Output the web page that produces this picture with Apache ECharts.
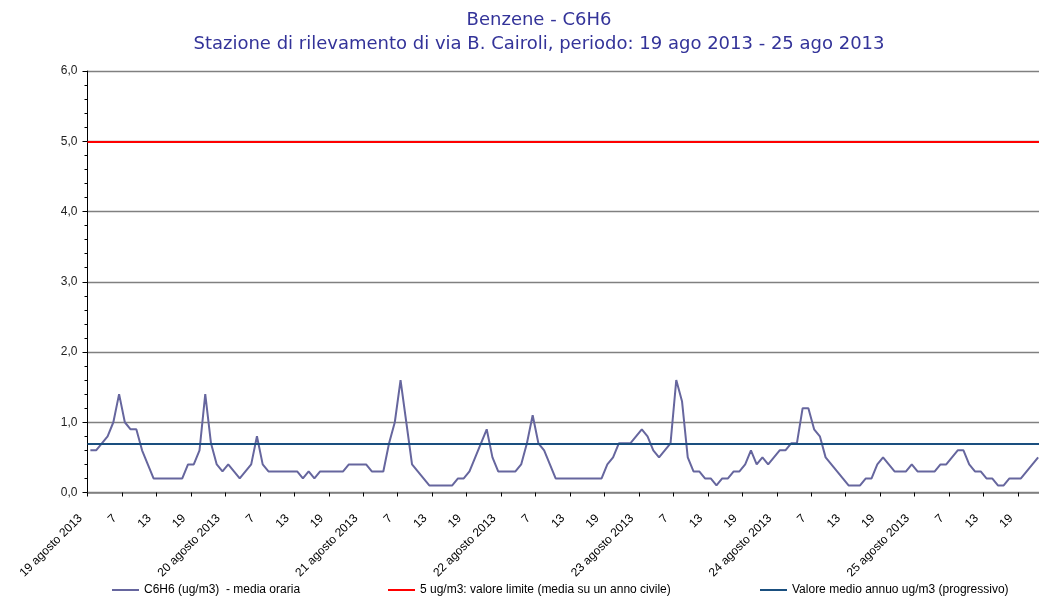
<!DOCTYPE html>
<html>
<head>
<meta charset="utf-8">
<title>Benzene - C6H6</title>
<script src="https://cdn.jsdelivr.net/npm/echarts@6/dist/echarts.min.js"></script>
<style>
    html, body { margin:0; padding:0; background:#fff; }
    #chart { width:1039px; height:600px; }
</style>
</head>
<body>
<div id="chart"></div>
<script>
// giorni del periodo, una etichetta per giorno (ore 1..24)
var days = ["19 agosto 2013","20 agosto 2013","21 agosto 2013","22 agosto 2013","23 agosto 2013","24 agosto 2013","25 agosto 2013"];
var hoursPerDay = 24;

// C6H6 (ug/m3) - media oraria
var c6h6 = [
    0.6,0.6,0.7,0.8,1.0,1.4,1.0,0.9,0.9,0.6,0.4,0.2,0.2,0.2,0.2,0.2,0.2,0.4,0.4,0.6,1.4,0.7,0.4,0.3,
    0.4,0.3,0.2,0.3,0.4,0.8,0.4,0.3,0.3,0.3,0.3,0.3,0.3,0.2,0.3,0.2,0.3,0.3,0.3,0.3,0.3,0.4,0.4,0.4,
    0.4,0.3,0.3,0.3,0.7,1.0,1.6,1.0,0.4,0.3,0.2,0.1,0.1,0.1,0.1,0.1,0.2,0.2,0.3,0.5,0.7,0.9,0.5,0.3,
    0.3,0.3,0.3,0.4,0.7,1.1,0.7,0.6,0.4,0.2,0.2,0.2,0.2,0.2,0.2,0.2,0.2,0.2,0.4,0.5,0.7,0.7,0.7,0.8,
    0.9,0.8,0.6,0.5,0.6,0.7,1.6,1.3,0.5,0.3,0.3,0.2,0.2,0.1,0.2,0.2,0.3,0.3,0.4,0.6,0.4,0.5,0.4,0.5,
    0.6,0.6,0.7,0.7,1.2,1.2,0.9,0.8,0.5,0.4,0.3,0.2,0.1,0.1,0.1,0.2,0.2,0.4,0.5,0.4,0.3,0.3,0.3,0.4,
    0.3,0.3,0.3,0.3,0.4,0.4,0.5,0.6,0.6,0.4,0.3,0.3,0.2,0.2,0.1,0.1,0.2,0.2,0.2,0.3,0.4,0.5
];

var limitValue = 5;      // valore limite
var annualMean = 0.7;    // valore medio annuo (progressivo)

var seriesNames = [
    "C6H6 (ug/m3)  - media oraria",
    "5 ug/m3: valore limite (media su un anno civile)",
    "Valore medio annuo ug/m3 (progressivo)"
];

var categories = [];
for (var d = 0; d < days.length; d++) {
    for (var h = 1; h <= hoursPerDay; h++) {
        categories.push(h == 1 ? days[d] : String(h));
    }
}

var labelFont = "Liberation Sans, Arial, sans-serif";

function refLine(value, color){
    return {
        silent: true,
        symbol: ["none","none"],
        label: { show:false },
        lineStyle: { color: color, width: 2, type: "solid" },
        data: [{ yAxis: value }]
    };
}

function legendAt(name, left){
    return {
        data: [name],
        left: left,
        top: 584,
        padding: 0,
        icon: "rect",
        itemWidth: 27,
        itemHeight: 2,
        textStyle: { fontFamily: labelFont, fontSize: 12, color: "#000" }
    };
}

var chart = echarts.init(document.getElementById("chart"));
var option = {
    animation: false,
    title: {
        text: "Benzene - C6H6\nStazione di rilevamento di via B. Cairoli, periodo: 19 ago 2013 - 25 ago 2013",
        left: 534,
        top: 3,
        textAlign: "center",
        textStyle: {
            color: "#333399",
            fontFamily: "DejaVu Sans, sans-serif",
            fontSize: 18,
            fontWeight: "normal",
            lineHeight: 24
        }
    },
    legend: [
        legendAt(seriesNames[0], 112),
        legendAt(seriesNames[1], 388),
        legendAt(seriesNames[2], 760)
    ],
    grid: {
        left: 87.5, width: 965, top: 71, bottom: 107.5,
        containLabel: false,
        outerBoundsMode: "none"
    },
    xAxis: {
        type: "category",
        data: categories,
        boundaryGap: true,
        axisLine: { show:true, lineStyle:{ color:"#808080", width:1.5 } },
        axisTick: { show:true, interval:5, length:4, lineStyle:{ color:"#000" } },
        axisLabel: {
            interval: 5,
            rotate: 45,
            margin: 14,
            padding: [0, 14, 0, 0],
            color: "#000",
            fontFamily: labelFont,
            fontSize: 12
        },
        splitLine: { show:false }
    },
    yAxis: {
        type: "value",
        min: 0,
        max: 6,
        interval: 1,
        axisLine: { show:true, lineStyle:{ color:"#000", width:1 } },
        axisTick: { show:true, length:5, lineStyle:{ color:"#000" } },
        minorTick: { show:true, splitNumber:5, length:3, lineStyle:{ color:"#000" } },
        axisLabel: {
            margin: 10,
            color: "#222",
            fontFamily: labelFont,
            fontSize: 12,
            formatter: function(v){ return v.toFixed(1).replace(".", ","); }
        },
        splitLine: { show:true, lineStyle:{ color:"#808080", width:1.3 } }
    },
    series: [
        {
            name: seriesNames[0],
            type: "line",
            data: c6h6,
            symbol: "none",
            color: "#66669e",
            lineStyle: { color:"#66669e", width:2 },
            z: 2
        },
        {
            name: seriesNames[1],
            type: "line",
            data: [],
            symbol: "none",
            color: "#ff0000",
            lineStyle: { color:"#ff0000", width:2 },
            markLine: refLine(limitValue, "#ff0000"),
            z: 3
        },
        {
            name: seriesNames[2],
            type: "line",
            data: [],
            symbol: "none",
            color: "#1a4f7f",
            lineStyle: { color:"#1a4f7f", width:2 },
            markLine: refLine(annualMean, "#1a4f7f"),
            z: 4
        }
    ]
};
chart.setOption(option);
</script>
</body>
</html>
